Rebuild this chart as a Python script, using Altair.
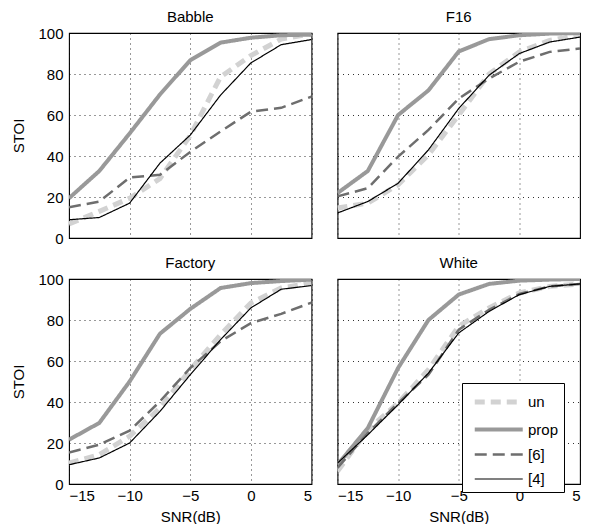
import altair as alt
import pandas as pd

snr = [-15, -12.5, -10, -7.5, -5, -2.5, 0, 2.5, 5]
panels = ["Babble", "F16", "Factory", "White"]
methods = ["un", "prop", "[6]", "[4]"]

babble_un = [6.8, 13, 19.4, 29, 50, 78.6, 89, 97, 99.7]
babble_prop = [19.4, 32.7, 51, 70, 86.7, 95.3, 97.7, 98.9, 99.2]
babble_6 = [15, 17.8, 29.5, 30.8, 42, 52, 61.6, 63.5, 69]
babble_4 = [8.9, 10, 17, 36.5, 50.2, 69.7, 85.4, 94.3, 96.8]

f16_un = [14.6, 17, 26, 40.5, 60, 80, 90.8, 96.4, 98.9]
f16_prop = [21.9, 32.7, 60, 72, 91, 97, 98.9, 99.7, 100]
f16_6 = [20.3, 24.3, 39.7, 52.7, 68, 77.8, 86, 90.8, 92.4]
f16_4 = [12.2, 17.8, 26.7, 43, 63.2, 79.4, 90, 95.6, 98]

factory_un = [10.2, 14.3, 23.3, 37, 55.8, 72.8, 88.3, 95.6, 98]
factory_prop = [21.6, 29.8, 50, 73.3, 85.4, 95.6, 98, 99, 99.7]
factory_6 = [15.4, 19.2, 26, 40.3, 56.6, 69.6, 78.5, 83, 88.5]
factory_4 = [9.4, 12.7, 20, 35.4, 53.3, 70.4, 85.9, 95, 96.8]

white_un = [6.2, 26.5, 39.5, 55.8, 77, 85.9, 93.2, 96.4, 97.6]
white_prop = [9.4, 27.3, 56.6, 80, 92.4, 97.6, 99.2, 99.7, 100]
white_6 = [7.8, 24.9, 39.5, 53.3, 75.3, 85, 92.7, 96.4, 97.6]
white_4 = [10.2, 24, 38.7, 54.1, 73.7, 84.2, 92.4, 96.4, 97.6]

series = {
    "Babble": [babble_un, babble_prop, babble_6, babble_4],
    "F16": [f16_un, f16_prop, f16_6, f16_4],
    "Factory": [factory_un, factory_prop, factory_6, factory_4],
    "White": [white_un, white_prop, white_6, white_4],
}

rows = []
for p in panels:
    for m, vals in zip(methods, series[p]):
        for x, y in zip(snr, vals):
            rows.append({"noise": p, "method": m, "snr": x, "stoi": y})
df = pd.DataFrame(rows)

FONT = "Liberation Sans"
legend = alt.Legend(
    title=None, orient="none", legendX=393, legendY=350,
    symbolType="M-0.556,0H3.711", symbolSize=506,
    labelFont=FONT, labelFontSize=15, labelColor="black",
    strokeColor="black", fillColor="white", padding=5,
    rowPadding=4, labelOffset=33,
)

chart = alt.Chart(df).mark_line(strokeCap="butt", strokeJoin="miter", clip=True).encode(
    x=alt.X("snr:Q", scale=alt.Scale(domain=[-15, 5], nice=False),
            axis=alt.Axis(values=[-15, -10, -5, 0, 5], title="SNR(dB)")),
    y=alt.Y("stoi:Q", scale=alt.Scale(domain=[0, 100], nice=False),
            axis=alt.Axis(values=[0, 20, 40, 60, 80, 100], title="STOI")),
    color=alt.Color("method:N", scale=alt.Scale(domain=methods,
                    range=["#d2d2d2", "#999999", "#6e6e6e", "#000000"]), legend=legend),
    strokeDash=alt.StrokeDash("method:N", scale=alt.Scale(domain=methods,
                    range=[[10, 6], [1, 0], [12, 6], [1, 0]]), legend=legend),
    strokeWidth=alt.StrokeWidth("method:N", scale=alt.Scale(type="ordinal", domain=methods,
                    range=[5, 4, 2.5, 1.2]), legend=legend),
    order=alt.Order("snr:Q"),
).properties(width=242.5, height=205).facet(
    facet=alt.Facet("noise:N", sort=panels,
                    header=alt.Header(title=None, labelFont=FONT, labelFontSize=15,
                                      labelPadding=8.5, labelColor="black")),
    columns=2, spacing={"row": 15, "column": 23.5},
).configure_view(stroke="black", strokeWidth=1.1).configure_axis(
    labelFont=FONT, labelFontSize=15, labelColor="black", titleFont=FONT,
    titleFontSize=15, titleFontWeight="normal", titleColor="black",
    grid=True, gridColor="black", gridDash=[1, 4], gridOpacity=0.8,
    tickSize=0, domain=False,
).configure_axisX(labelPadding=3, titlePadding=6).configure_axisY(
    titlePadding=11, labelPadding=5).properties(
    padding={"left": 3, "top": 0, "right": 0, "bottom": 0})

chart.save("out.html", embed_options={"renderer": "svg", "actions": False})
